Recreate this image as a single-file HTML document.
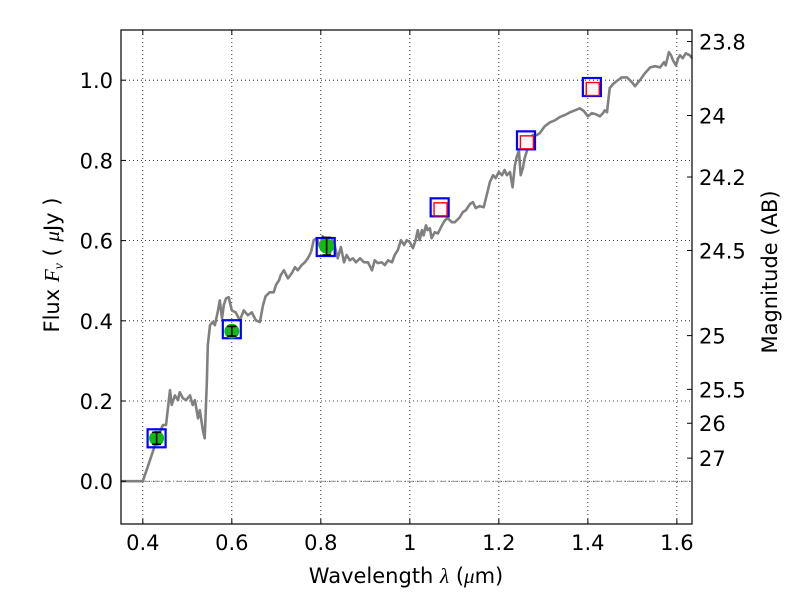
<!DOCTYPE html>
<html><head><meta charset="utf-8"><style>
body{margin:0;background:#fff}
text{font-family:"DejaVu Sans","Liberation Sans",sans-serif;fill:#000}
</style></head><body>
<svg id="chart" width="800" height="600" xmlns="http://www.w3.org/2000/svg">
<rect width="800" height="600" fill="#fff"/>
<g id="grid"></g>
<line id="zl" stroke="#777" stroke-width="0.8" stroke-dasharray="6,2,1,2"/>
<polyline id="spec" fill="none" stroke="#808080" stroke-width="2.6" stroke-linejoin="round"/>
<g id="marks"></g>
<rect x="121" y="30" width="571" height="494" fill="none" stroke="#000" stroke-width="1.2"/>
<g id="axes"></g>
<text x="406" y="583" font-size="21" text-anchor="middle">Wavelength  <tspan font-family="Liberation Serif" font-style="italic">λ</tspan> (<tspan font-family="Liberation Serif" font-style="italic">μ</tspan>m)</text>
<text transform="translate(59,265) rotate(-90)" font-size="21" text-anchor="middle">Flux  <tspan font-family="Liberation Serif" font-style="italic">F<tspan font-size="14" dy="4">ν</tspan></tspan><tspan dy="-4">  ( </tspan><tspan font-family="Liberation Serif" font-style="italic">μ</tspan>Jy )</text>
<text transform="translate(777,272) rotate(-90)" font-size="21" text-anchor="middle">Magnitude (AB)</text>
</svg>
<script>
const specWl=[0.351,0.400,0.416,0.431,0.445,0.452,0.461,0.465,0.472,0.479,0.483,0.490,0.497,0.506,0.512,0.517,0.524,0.528,0.535,0.539,0.544,0.546,0.551,0.557,0.562,0.569,0.573,0.578,0.582,0.587,0.593,0.600,0.609,0.618,0.627,0.636,0.645,0.654,0.663,0.670,0.676,0.685,0.694,0.699,0.706,0.710,0.717,0.726,0.735,0.742,0.748,0.757,0.764,0.771,0.778,0.784,0.791,0.798,0.804,0.809,0.813,0.820,0.825,0.831,0.838,0.845,0.852,0.858,0.865,0.872,0.879,0.888,0.897,0.906,0.915,0.921,0.928,0.937,0.944,0.951,0.960,0.966,0.973,0.980,0.987,0.993,1.000,1.007,1.013,1.018,1.022,1.027,1.031,1.036,1.040,1.045,1.049,1.056,1.063,1.072,1.079,1.085,1.094,1.101,1.112,1.119,1.126,1.135,1.142,1.148,1.157,1.166,1.180,1.187,1.193,1.200,1.207,1.213,1.218,1.225,1.231,1.236,1.240,1.245,1.249,1.254,1.258,1.265,1.270,1.276,1.285,1.292,1.303,1.315,1.326,1.337,1.348,1.360,1.371,1.382,1.391,1.400,1.409,1.418,1.427,1.434,1.438,1.443,1.449,1.456,1.465,1.476,1.488,1.499,1.506,1.517,1.528,1.540,1.551,1.562,1.571,1.575,1.582,1.587,1.591,1.598,1.603,1.607,1.613,1.620,1.629,1.634];
const specFlux=[0,0,0.052,0.102,0.140,0.140,0.227,0.190,0.214,0.202,0.222,0.207,0.202,0.214,0.190,0.202,0.157,0.177,0.127,0.107,0.252,0.339,0.389,0.397,0.389,0.426,0.451,0.406,0.439,0.456,0.459,0.426,0.421,0.401,0.426,0.414,0.421,0.401,0.397,0.439,0.461,0.471,0.471,0.489,0.501,0.514,0.526,0.506,0.519,0.534,0.526,0.539,0.546,0.556,0.571,0.601,0.606,0.584,0.611,0.601,0.596,0.564,0.601,0.589,0.556,0.584,0.546,0.564,0.551,0.556,0.546,0.556,0.546,0.546,0.526,0.551,0.544,0.546,0.539,0.551,0.546,0.564,0.576,0.601,0.589,0.601,0.596,0.581,0.601,0.626,0.601,0.626,0.613,0.638,0.626,0.631,0.606,0.621,0.618,0.638,0.651,0.656,0.646,0.646,0.658,0.671,0.676,0.691,0.696,0.681,0.686,0.683,0.746,0.763,0.756,0.771,0.763,0.776,0.763,0.771,0.733,0.788,0.808,0.825,0.763,0.781,0.806,0.831,0.850,0.863,0.863,0.868,0.885,0.895,0.900,0.908,0.913,0.920,0.925,0.930,0.923,0.910,0.918,0.915,0.910,0.918,0.925,0.920,0.980,0.990,0.998,1.007,1.007,0.995,0.985,1.000,1.017,1.032,1.035,1.032,1.045,1.037,1.070,1.062,1.050,1.037,1.055,1.062,1.055,1.067,1.062,1.055];
const modelWl=[0.431,0.600,0.811,1.067,1.261,1.409];
const modelFlux=[0.107,0.379,0.584,0.683,0.850,0.983];
const obsWl=[0.431,0.600,0.813];
const obsFlux=[0.107,0.374,0.586];
const obsErr=[0.015,0.012,0.022];
const limWl=[1.069,1.263,1.411];
const limFlux=[0.678,0.845,0.978];
const xTicks=[0.4,0.6,0.8,1.0,1.2,1.4,1.6];
const xTickLabels=["0.4","0.6","0.8","1","1.2","1.4","1.6"];
const yTicks=[0,0.2,0.4,0.6,0.8,1.0];
const yTickLabels=["0.0","0.2","0.4","0.6","0.8","1.0"];
const magTicks=[23.8,24,24.2,24.5,25,25.5,26,27];
const magTickLabels=["23.8","24","24.2","24.5","25","25.5","26","27"];

const X0=121,X1=692,Y0=30,Y1=524;
const xmin=0.351,xmax=1.634,ymin=-0.1067,ymax=1.1252;
const sx=v=>X0+(v-xmin)/(xmax-xmin)*(X1-X0);
const sy=v=>Y1-(v-ymin)/(ymax-ymin)*(Y1-Y0);
const NS="http://www.w3.org/2000/svg";
function mk(tag,parent,attrs){const e=document.createElementNS(NS,tag);for(const k in attrs)e.setAttribute(k,attrs[k]);parent.appendChild(e);return e;}
const grid=document.getElementById('grid'),axes=document.getElementById('axes'),marks=document.getElementById('marks');
xTicks.forEach((t,i)=>{const x=sx(t);
 const g=mk('line',grid,{x1:x,x2:x,y1:Y0,y2:Y1,stroke:'#000','stroke-width':0.8,'stroke-dasharray':'1,3'});
 
 
 mk('line',axes,{x1:x,x2:x,y1:Y1,y2:Y1-5,stroke:'#000'});
 mk('line',axes,{x1:x,x2:x,y1:Y0,y2:Y0+5,stroke:'#000'});
 const l=mk('text',axes,{x:x,y:Y1+26,'font-size':21,'text-anchor':'middle'});l.textContent=xTickLabels[i];
 
 
});
yTicks.forEach((t,i)=>{const y=sy(t);
 const g=mk('line',grid,{x1:X0,x2:X1,y1:y,y2:y,stroke:'#000','stroke-width':0.8,'stroke-dasharray':'1,3'});
 
 
 mk('line',axes,{x1:X0,x2:X0+5,y1:y,y2:y,stroke:'#000'});
 const l=mk('text',axes,{x:X0-8,y:y+8,'font-size':21,'text-anchor':'end'});l.textContent=yTickLabels[i];
 
 
});
magTicks.forEach((m,i)=>{const y=sy(Math.pow(10,(23.9-m)/2.5));
 mk('line',axes,{x1:X1,x2:X1-5,y1:y,y2:y,stroke:'#000'});
 const l=mk('text',axes,{x:X1+7,y:y+8,'font-size':21});l.textContent=magTickLabels[i];
 
 
});
const zl=document.getElementById('zl');
zl.setAttribute('x1',X0);zl.setAttribute('x2',X1);zl.setAttribute('y1',sy(0));zl.setAttribute('y2',sy(0));
document.getElementById('spec').setAttribute('points',specWl.map((w,i)=>sx(w).toFixed(1)+','+sy(specFlux[i]).toFixed(1)).join(' '));
modelWl.forEach((w,i)=>{const r=mk('rect',marks,{x:sx(w)-9,y:sy(modelFlux[i])-9,width:18,height:18,fill:'none',stroke:'#0000ff','stroke-width':2.2});
 
 });
limWl.forEach((w,i)=>{const r=mk('rect',marks,{x:sx(w)-6.5,y:sy(limFlux[i])-6.5,width:13,height:13,fill:'#fff5f5',stroke:'#ff0000','stroke-width':1.4});
 
 });
obsWl.forEach((w,i)=>{const x=sx(w),y=sy(obsFlux[i]);
 const c=mk('circle',marks,{cx:x,cy:y,r:7.5,fill:'#11bb11'});
 
 
 const y1=sy(obsFlux[i]+obsErr[i]),y2=sy(obsFlux[i]-obsErr[i]);
 mk('line',marks,{x1:x,x2:x,y1:y1,y2:y2,stroke:'#000','stroke-width':1.6});
 mk('line',marks,{x1:x-4.5,x2:x+4.5,y1:y1,y2:y1,stroke:'#000','stroke-width':1.6});
 mk('line',marks,{x1:x-4.5,x2:x+4.5,y1:y2,y2:y2,stroke:'#000','stroke-width':1.6});
});
</script>
</body></html>
